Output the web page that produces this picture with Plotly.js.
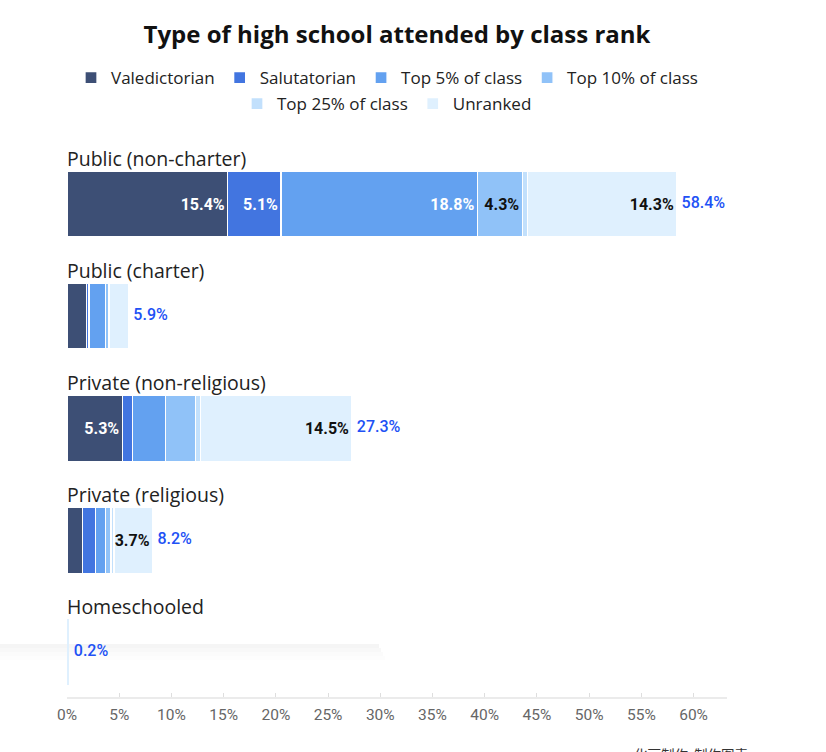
<!DOCTYPE html>
<html><head><meta charset="utf-8">
<script src="https://cdn.plot.ly/plotly-3.0.1.min.js"></script>
<style>html,body{margin:0;padding:0;background:#fff}#chart{width:826px;height:752px}</style>
</head><body><div id="chart"></div>
<script>
// ---- data ----
const categories = ['Public (non-charter)', 'Public (charter)', 'Private (non-religious)', 'Private (religious)', 'Homeschooled'];
const seriesNames = ['Valedictorian', 'Salutatorian', 'Top 5% of class', 'Top 10% of class', 'Top 25% of class', 'Unranked'];
const valedictorian = [15.4, 1.9, 5.3, 1.5, 0];
const salutatorian  = [5.1, 0.2, 1.0, 1.2, 0];
const top5          = [18.8, 1.6, 3.1, 1.0, 0];
const top10         = [4.3, 0.3, 2.9, 0.5, 0];
const top25         = [0.5, 0.1, 0.5, 0.3, 0];
const unranked      = [14.3, 1.8, 14.5, 3.7, 0.2];
const totals        = [58.4, 5.9, 27.3, 8.2, 0.2];
const tickValues    = [0, 5, 10, 15, 20, 25, 30, 35, 40, 45, 50, 55, 60];
const tickLabels    = ['0%', '5%', '10%', '15%', '20%', '25%', '30%', '35%', '40%', '45%', '50%', '55%', '60%'];

// ---- styles ----
const seriesValues = [valedictorian, salutatorian, top5, top10, top25, unranked];
const barColors = ['#3d4f75', '#4275e0', '#63a1f0', '#90c2f8', '#c2e0fc', '#dff0fe'];
const labelColors = ['#ffffff', '#ffffff', '#ffffff', '#111111', '#111111', '#111111'];
const legendGroupOf = ['legend', 'legend', 'legend', 'legend', 'legend2', 'legend2'];
const labelFont = 'Roboto, "Open Sans", sans-serif';
const textFont = '"Open Sans", Roboto, sans-serif';

const traces = seriesValues.map((vals, i) => ({
  type: 'bar',
  orientation: 'h',
  name: seriesNames[i],
  legend: legendGroupOf[i],
  x: vals,
  y: categories,
  marker: {
    color: barColors[i],
    line: { color: '#ffffff', width: vals.map((v, j) => (j === 4 ? 0 : 1.3)) }
  },
  text: vals.map(v => (v >= 3.5 ? v.toFixed(1) + '%' : '')),
  textposition: 'inside',
  insidetextanchor: 'end',
  textangle: 0,
  constraintext: 'none',
  textfont: { family: labelFont, size: 16, weight: 700, color: labelColors[i] },
  hoverinfo: 'skip'
}));

traces.push({
  type: 'scatter',
  mode: 'markers+text',
  x: totals,
  y: categories,
  text: totals.map(v => v.toFixed(1) + '%'),
  textposition: 'middle right',
  marker: { size: 6, color: 'rgba(0,0,0,0)' },
  textfont: { family: labelFont, size: 16, weight: 500, color: '#2151f5' },
  showlegend: false,
  cliponaxis: false,
  hoverinfo: 'skip'
});

// pixel -> paper helpers (plot area: x 67..727, y 148..697)
const px = p => (p - 67) / 660;
const py = p => (697 - p) / 549;

const shapes = [];
const shadowSteps = [0.04, 0.028, 0.017, 0.008];
shadowSteps.forEach((op, k) => {
  shapes.push({
    type: 'rect', layer: 'below', xref: 'paper', yref: 'paper',
    x0: px(0), x1: px(379 + 2 * k), y0: py(644 + 4 * (k + 1)), y1: py(644 + 4 * k),
    fillcolor: 'rgba(0,0,0,' + op + ')', line: { width: 0 }
  });
});

const annotations = categories.map(c => ({
  x: 0, xref: 'x', y: c, yref: 'y',
  xanchor: 'left', yanchor: 'middle', yshift: 46, xshift: -2,
  text: c, showarrow: false,
  font: { family: textFont, size: 19.5, color: '#222222' }
}));
annotations.push({
  x: px(691), xref: 'paper', y: py(754), yref: 'paper',
  xanchor: 'center', yanchor: 'middle', showarrow: false,
  text: '化丽制作  制作图表',
  font: { family: '"Noto Sans CJK SC", sans-serif', size: 13.5, color: '#333333' }
});

const legendBase = {
  orientation: 'h', x: px(387), xanchor: 'center', xref: 'paper',
  yanchor: 'top', yref: 'paper',
  font: { family: textFont, size: 17, color: '#222222' },
  itemwidth: 30, traceorder: 'normal', itemclick: false, itemdoubleclick: false,
  bgcolor: 'rgba(0,0,0,0)'
};

const layout = {
  width: 826, height: 752,
  margin: { l: 67, r: 99, t: 148, b: 55 },
  paper_bgcolor: '#ffffff', plot_bgcolor: '#ffffff',
  barmode: 'stack',
  bargap: 0.41,
  title: {
    text: '<b>Type of high school attended by class rank</b>',
    x: 0.5, xref: 'paper', xanchor: 'center',
    y: 1 - 35 / 752, yref: 'container', yanchor: 'middle',
    font: { family: textFont, size: 24, color: '#111111' }
  },
  showlegend: true,
  legend: Object.assign({}, legendBase, { y: py(60) }),
  legend2: Object.assign({}, legendBase, { y: py(86) }),
  xaxis: {
    range: [0, 63.2],
    tickvals: tickValues, ticktext: tickLabels,
    showgrid: false, zeroline: false,
    showline: true, linecolor: '#ebebeb', linewidth: 2,
    ticks: 'inside', ticklen: 4, tickcolor: '#dedede', tickwidth: 1,
    ticklabelstandoff: 2,
    tickfont: { family: labelFont, size: 15.5, color: '#666666' },
    fixedrange: true
  },
  yaxis: {
    type: 'category',
    range: [4.4, -0.5],
    showticklabels: false, showgrid: false, zeroline: false, showline: false,
    ticks: '', fixedrange: true
  },
  shapes: shapes,
  annotations: annotations
};

Plotly.newPlot('chart', traces, layout, { displayModeBar: false, responsive: false });
</script>
</body></html>
